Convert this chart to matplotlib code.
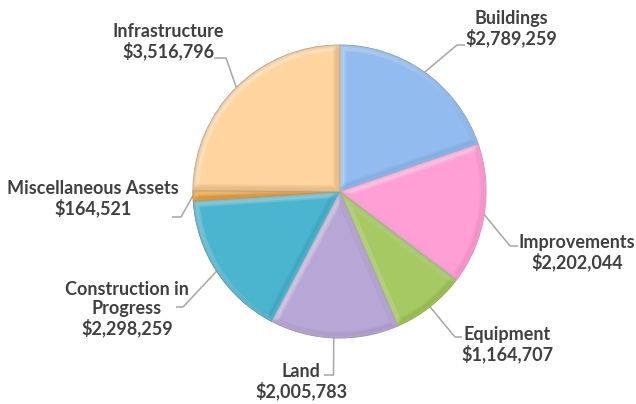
import matplotlib
matplotlib.use("Agg")
import matplotlib.pyplot as plt
import matplotlib.transforms as mtransforms
from matplotlib.patches import PathPatch
import numpy as np

categories = ["Buildings", "Improvements", "Equipment", "Land",
              "Construction in\nProgress", "Miscellaneous Assets", "Infrastructure"]
values = [2789259, 2202044, 1164707, 2005783, 2298259, 164521, 3516796]
colors = ["#92BCEF", "#FF9FD6", "#A6C963", "#B8A6D6", "#4BB4CF", "#F5A33A", "#FFD49E"]
edges = ["#6E98CC", "#D97DB2", "#7F9F3E", "#9483B0", "#3391AD", "#B8741A", "#C99A62"]

# label layout in pixels: text center, elbow point, end point
layout = [
    ((511, 28.5), (457, 45), (465, 45)),
    ((577, 252.5), (510, 246), (518, 246)),
    ((507, 345), (455, 337), (462, 337)),
    ((301, 382), (333.5, 375), (324, 375)),
    ((127, 309), (183, 307), (176, 307)),
    ((93, 198.5), (181, 217), (172, 217)),
    ((168, 41.5), (226, 58), (214, 58)),
]

W, H = 636, 404
cx, cy, R = 339.5, 191.5, 146.5

fig = plt.figure(figsize=(6.36, 4.04), dpi=100)
ax = fig.add_axes([0, 0, 1, 1])
wedges, _ = ax.pie(values, colors=colors, startangle=90, counterclock=False,
                   radius=1, center=(0, 0),
                   wedgeprops=dict(linewidth=0.7))
ax.set_xlim(-cx / R, (W - cx) / R)
ax.set_ylim((cy - H) / R, cy / R)
ax.set_aspect('equal')
ax.axis('off')

# soft bevel-like highlight and shadow, clipped to each wedge
for w, ec in zip(wedges, edges):
    w.set_edgecolor(ec)
    path = w.get_path()
    ptrans = w.get_patch_transform()
    for (sx, col, alpha) in [(1, "white", 0.16), (-1, ec, 0.18)]:
        for lw in (7, 4.5, 2.5):
            d = 1.4 * sx
            tr = ptrans + ax.transData + mtransforms.Affine2D().translate(d, -d)
            pp = PathPatch(path, facecolor='none', edgecolor=col, alpha=alpha,
                           lw=lw, transform=tr, zorder=w.get_zorder() + 0.1)
            ax.add_patch(pp)
            pp.set_clip_path(w)

def px(p):
    return ((p[0] - cx) / R, (cy - p[1]) / R)

for w, cat, val, (tc, elbow, end) in zip(wedges, categories, values, layout):
    mid = np.deg2rad((w.theta1 + w.theta2) / 2)
    ax_, ay_ = np.cos(mid), np.sin(mid)
    e1 = px(elbow); e2 = px(end)
    ax.plot([ax_, e1[0], e2[0]], [ay_, e1[1], e2[1]], color="#A6A6A6", lw=1.1,
            solid_capstyle='butt', zorder=0.5)
    t = px(tc)
    ax.text(t[0], t[1], f"{cat}\n${val:,}", ha='center', va='center',
            multialignment='center', fontsize=13, fontweight='bold',
            family=['Lato', 'DejaVu Sans'], color="#404040", linespacing=1.1,
            parse_math=False)

fig.savefig("out.png", dpi=100)
